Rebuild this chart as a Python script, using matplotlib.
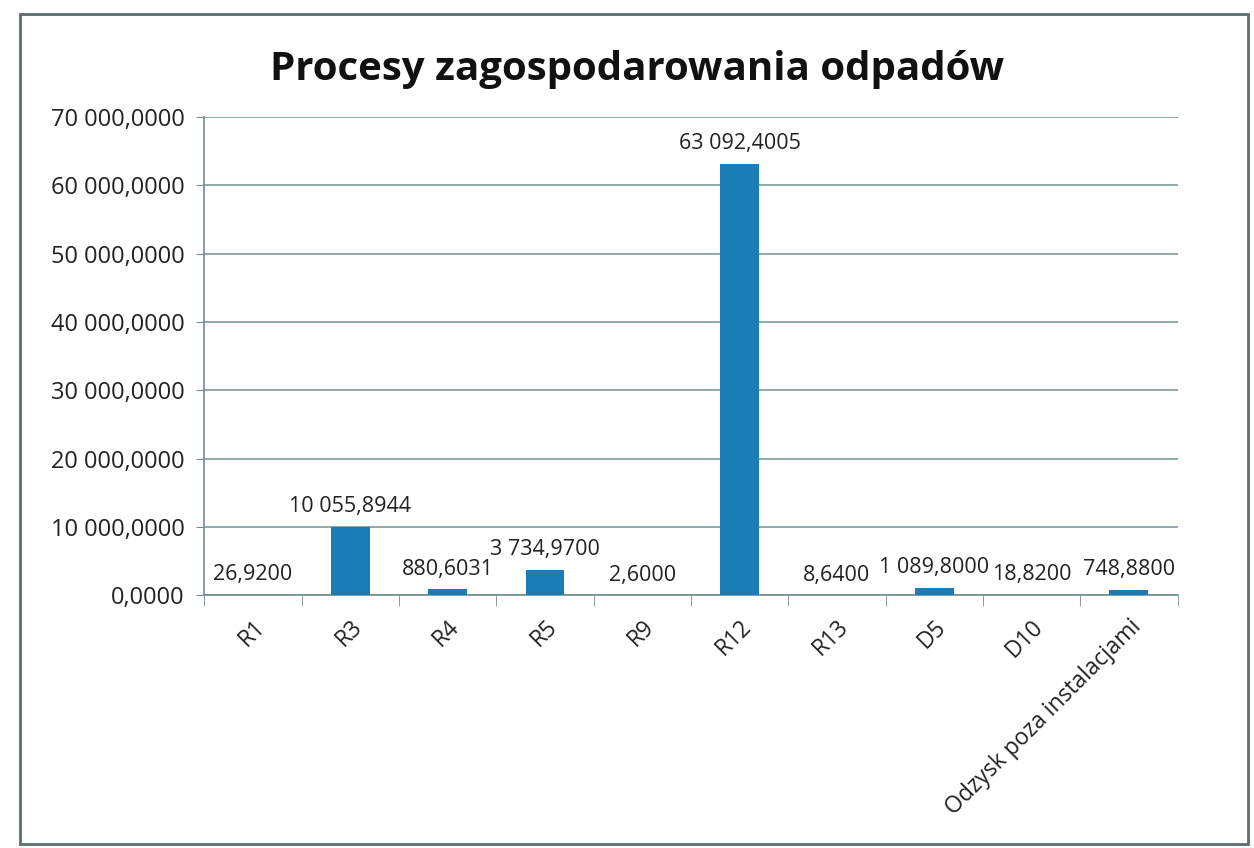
import matplotlib.pyplot as plt
import numpy as np
from matplotlib.patches import Rectangle
from matplotlib.ticker import FixedLocator, FuncFormatter

categories = ["R1", "R3", "R4", "R5", "R9", "R12", "R13", "D5", "D10", "Odzysk poza instalacjami"]
values = [26.92, 10055.8944, 880.6031, 3734.97, 2.6, 63092.4005, 8.64, 1089.8, 18.82, 748.88]
y_ticks = [0, 10000, 20000, 30000, 40000, 50000, 60000, 70000]

plt.rcParams['font.family'] = ['Open Sans', 'DejaVu Sans']


def pl_fmt(v):
    # Polish style: space for thousands, comma for decimals
    return "{:,.4f}".format(v).replace(",", " ").replace(".", ",")


fig = plt.figure(figsize=(12.54, 8.48), dpi=100)
ax = fig.add_axes([0.163, 0.298, 0.776, 0.564])

x = np.arange(len(categories))
ax.bar(x, values, width=0.4, color='#1a7db5', zorder=3)

for xi, v in zip(x, values):
    ax.annotate(pl_fmt(v), (xi, v), xytext=(0, 7), textcoords='offset points',
                ha='center', va='bottom', fontsize=15.5, color='#222222')

ax.set_xlim(-0.5, len(categories) - 0.5)
ax.set_ylim(0, 70000)
ax.set_yticks(y_ticks)
ax.yaxis.set_major_formatter(FuncFormatter(lambda v, p: pl_fmt(v)))
ax.tick_params(axis='y', labelsize=17, length=6, color='#6f8f8f', labelcolor='#222222', pad=8)
ax.grid(axis='y', color='#7f9b9b', linewidth=1.2, zorder=0)

ax.set_xticks(x)
ax.set_xticklabels(categories, rotation=45, ha='right', rotation_mode='anchor', fontsize=16.5, color='#222222')
ax.tick_params(axis='x', length=0, pad=14)
ax.xaxis.set_minor_locator(FixedLocator(np.arange(len(categories) + 1) - 0.5))
ax.tick_params(axis='x', which='minor', length=8, color='#6f8f8f')

for s in ['top', 'right']:
    ax.spines[s].set_visible(False)
for s in ['left', 'bottom']:
    ax.spines[s].set_color('#6f8f8f')
    ax.spines[s].set_linewidth(1.2)

fig.text(0.508, 0.918, "Procesy zagospodarowania odpadów", ha='center', va='center',
         fontsize=29, fontweight='bold', color='#111111')

fig.patches.append(Rectangle((20 / 1254, 4 / 848), 1228 / 1254, 830 / 848, transform=fig.transFigure,
                             fill=False, edgecolor='#5a6f6f', linewidth=2))

fig.savefig("out.png", dpi=100, facecolor='white')
